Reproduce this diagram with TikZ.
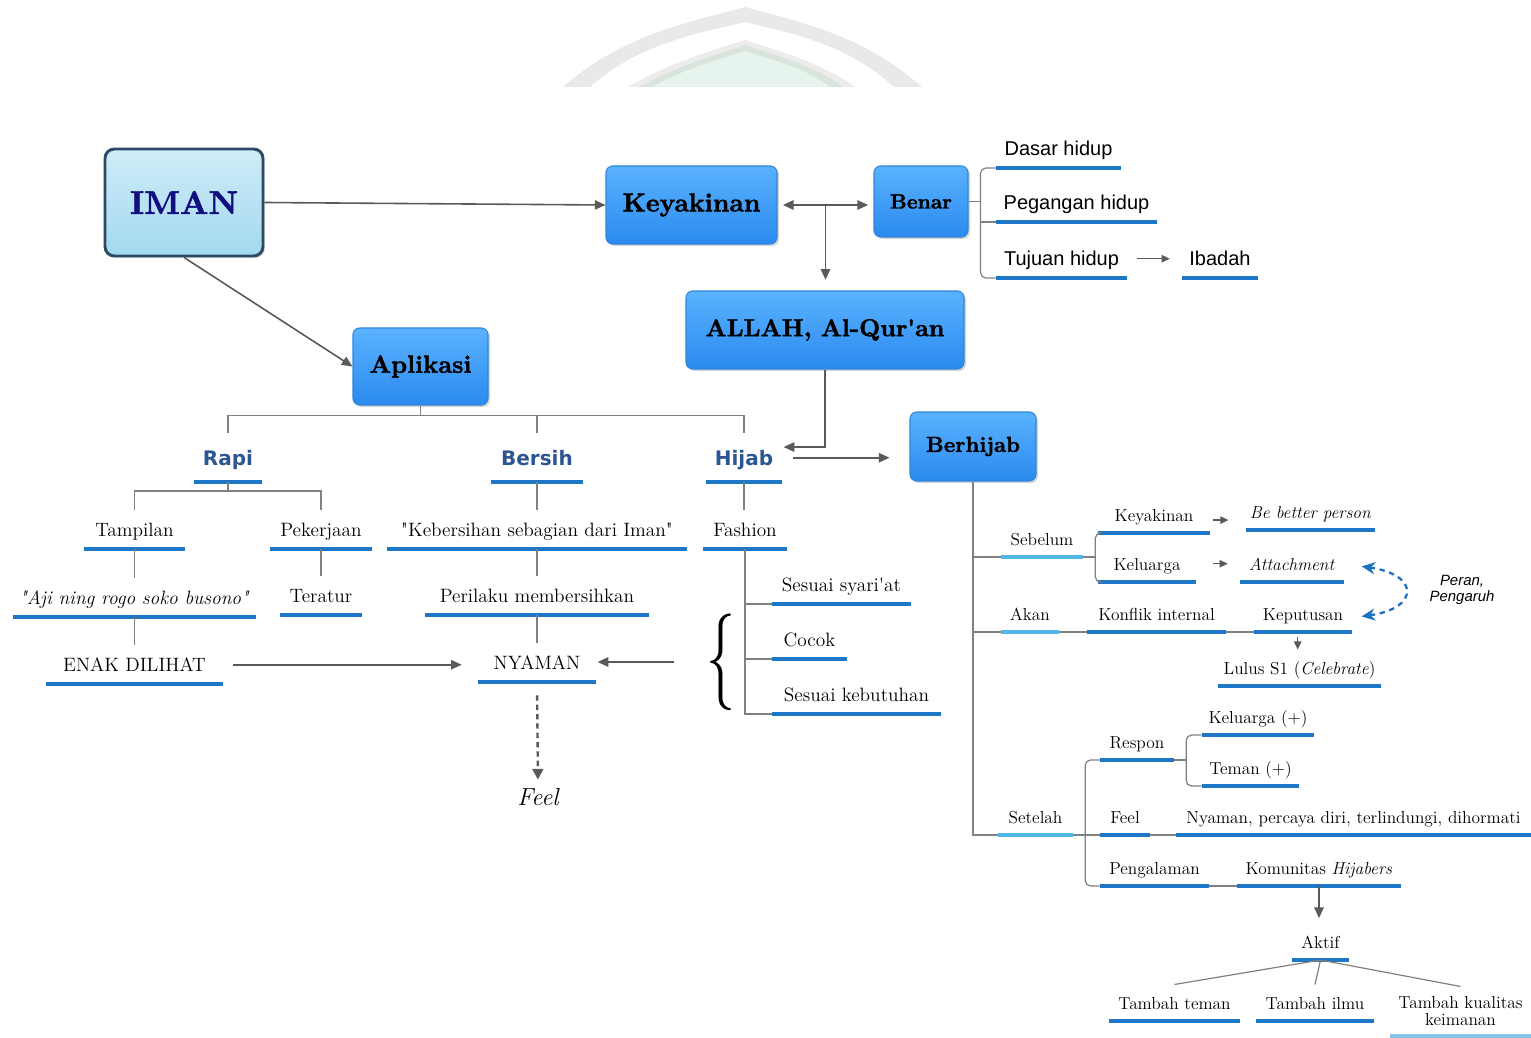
\documentclass[tikz,border=0pt]{standalone}
\usepackage{fontspec}
\usepackage{graphicx}
\usetikzlibrary{arrows.meta,shadows,calc}
\newfontfamily\headfont{DejaVu Sans}
\newfontfamily\arialfont{Liberation Sans}
\newfontfamily\boxfont{lmroman10-bold.otf}[FakeBold=1.6]
\definecolor{boxtop}{HTML}{5AB2FF}
\definecolor{boxbot}{HTML}{2A8AEE}
\definecolor{boxline}{HTML}{2F86DA}
\definecolor{imantop}{HTML}{CFEDF8}
\definecolor{imanbot}{HTML}{A3D8EE}
\definecolor{imanline}{HTML}{2C4A66}
\definecolor{imantext}{HTML}{120E80}
\definecolor{headblue}{HTML}{2C5592}
\definecolor{ublue}{HTML}{1E76C6}
\definecolor{ulight}{HTML}{52B6E6}
\definecolor{ufaint}{HTML}{86C3E8}
\definecolor{arrgray}{HTML}{5A5A5A}
\definecolor{linkgray}{HTML}{808080}
\definecolor{wmgray}{HTML}{E9E9E9}
\definecolor{wmedge}{HTML}{D8E4DC}
\definecolor{wmgreen}{HTML}{E6F4ED}
\definecolor{peranblue}{HTML}{1C70C2}
\tikzset{
  sz/.style 2 args={minimum width=#1*0.75pt, minimum height=#2*0.75pt},
  box/.style={rounded corners=5pt, draw=boxline, line width=0.8pt,
    top color=boxtop, bottom color=boxbot, inner sep=0pt,
    drop shadow={opacity=0.3, shadow xshift=1.5pt, shadow yshift=-1.5pt}},
  imanbox/.style={rounded corners=7pt, draw=imanline, line width=2.2pt,
    top color=imantop, bottom color=imanbot, inner sep=0pt, text=imantext,
    drop shadow={opacity=0.25, shadow xshift=1.5pt, shadow yshift=-1.5pt},
    font=\boxfont\fontsize{24.6}{28}\selectfont},
  item/.style={anchor=south, inner sep=0pt},
  litem/.style={item, minimum height=38*0.75pt, text height=13.3pt, text depth=3.5pt,
    font=\fontsize{14.5}{16}\selectfont},
  ritem/.style={item, minimum height=36*0.75pt, text height=13pt, text depth=3.1pt,
    font=\fontsize{13}{15}\selectfont},
  sitem/.style={item, minimum height=38*0.75pt, text height=13.8pt, text depth=3.5pt,
    font=\arialfont\fontsize{15}{17}\selectfont},
  head/.style={item, minimum height=48*0.75pt, text height=15.5pt, text depth=3.5pt,
    text=headblue, font=\headfont\bfseries\fontsize{15}{17}\selectfont},
  uline/.style={draw=#1, line width=2.6pt},
  link/.style={draw=linkgray, line width=0.9pt},
  arr/.style={draw=arrgray, line width=1.2pt, -{Triangle[length=8pt,width=7pt]}},
  dblarr/.style={draw=arrgray, line width=1.2pt,
    {Triangle[length=8pt,width=7pt]}-{Triangle[length=8pt,width=7pt]}},
  sarr/.style={draw=arrgray, line width=0.9pt, -{Triangle[length=6pt,width=5.5pt]}},
  darr/.style={draw=arrgray, line width=1.8pt, dash pattern=on 4pt off 3pt,
    -{Triangle[length=8pt,width=8pt]}},
  peran/.style={draw=peranblue, line width=1.7pt, dash pattern=on 4pt off 3.5pt,
    {Stealth[length=10pt,width=9pt]}-{Stealth[length=10pt,width=9pt]}}
}
\begin{document}
\begin{tikzpicture}[x=0.75pt, y=-0.75pt]
   \useasboundingbox (0,0) rectangle (1531,1038);
   \fill[white] (0,0) rectangle (1531,1038);
   % watermark
   \begin{scope}
      \clip (0,0) rectangle (1531,87);
      \fill[wmgray] (563,87) .. controls (625,32) and (700,20) .. (745,7)
         .. controls (790,20) and (860,32) .. (922,87) -- (894,87)
         .. controls (845,42) and (785,32) .. (745,22)
         .. controls (705,32) and (640,42) .. (590,87) -- cycle;
      \fill[wmgray!85!white] (628,87) .. controls (670,62) and (715,50) .. (745,40)
         .. controls (775,50) and (820,62) .. (855,87) -- cycle;
      \fill[wmedge] (640,87) .. controls (680,64) and (720,54) .. (745,45)
         .. controls (770,54) and (812,64) .. (843,87) -- cycle;
      \fill[wmgreen] (652,87) .. controls (688,67) and (725,58) .. (745,51)
         .. controls (765,58) and (805,67) .. (830,87) -- cycle;
   \end{scope}

   \node[imanbox, sz={158}{107}] (iman) at (184,202.5) {IMAN};
   \node[box, sz={171}{78}, font=\boxfont\fontsize{19.4}{22}\selectfont] (keyakinan) at (691.5,205) {Keyakinan};
   \node[box, sz={94}{71}, font=\boxfont\fontsize{15.4}{18}\selectfont] (benar) at (921,201.5) {Benar};
   \node[box, sz={278}{78}, font=\boxfont\fontsize{18.3}{21}\selectfont] (allah) at (825,330) {ALLAH, Al-Qur\textquotesingle an};
   \node[box, sz={135}{77}, font=\boxfont\fontsize{18.7}{21}\selectfont] (aplikasi) at (420.5,366.5) {Aplikasi};
   \node[box, sz={126}{69}, font=\boxfont\fontsize{16.3}{19}\selectfont] (berhijab) at (973,446.5) {Berhijab};

   \def \SansItems {
      dasar/1058.5/168/125/Dasar hidup,
      pegangan/1076.5/222/161/Pegangan hidup,
      tujuan/1061.5/278/131/Tujuan hidup,
      ibadah/1220/278/76/Ibadah}
   \def \Heads {
      rapi/228/482/68/Rapi,
      bersih/537/482/92/Bersih,
      hijab/744/482/76/Hijab}
   \def \LeftItems {
      tampilan/134.5/549/101/Tampilan,
      pekerjaan/321/549/102/Pekerjaan,
      kebersihan/537/549/300/\textquotedbl Kebersihan sebagian dari Iman\textquotedbl,
      fashion/745/549/84/Fashion,
      aji/134.5/617/243/{\textit{\textquotedbl Aji ning rogo soko busono\textquotedbl}},
      teratur/321/615/81/Teratur,
      perilaku/537/615/224/Perilaku membersihkan,
      enak/134.5/684/176/ENAK DILIHAT,
      nyaman/537/682/118/NYAMAN,
      syariat/841.5/604/139/Sesuai syari\textquotesingle at,
      cocok/809.5/659/75/Cocok,
      kebutuhan/856.5/714/169/Sesuai kebutuhan}
   \def \RightItems {
      sebelum/1042/557/82/Sebelum/ulight,
      keyak2/1154/533/112/Keyakinan/ublue,
      keluarga/1147/582/98/Keluarga/ublue,
      better/1310.5/530/129/{\textit{Be better person}}/ublue,
      attach/1292/582/104/{\textit{Attachment}}/ublue,
      akan/1030/632/58/Akan/ulight,
      konflik/1156.5/632/139/Konflik internal/ublue,
      keputusan/1303/632/98/Keputusan/ublue,
      lulus/1299.5/686/163/{Lulus S1 (\textit{Celebrate})}/ublue,
      setelah/1035.5/835/75/Setelah/ulight,
      respon/1137/760/74/Respon/ublue,
      kel2/1258/735/112/Keluarga (+)/ublue,
      teman/1250.5/786/97/Teman (+)/ublue,
      feel2/1125/835/50/Feel/ublue,
      nyaman2/1353.5/835/355/{Nyaman, percaya diri, terlindungi, dihormati}/ublue,
      pengal/1154.5/886/109/Pengalaman/ublue,
      komunitas/1319/886/164/{Komunitas \textit{Hijabers}}/ublue,
      aktif/1320.5/960/57/Aktif/ublue,
      tteman/1174.5/1021/131/Tambah teman/ublue,
      tilmu/1315/1021/118/Tambah ilmu/ublue}
   \foreach \n / \x / \y / \w / \t in \SansItems {
      \node[sitem, minimum width=\w*0.75pt] (\n) at (\x, \y) {\t};
      \path[uline=ublue] (\n.south west) -- (\n.south east);
   }
   \foreach \n / \x / \y / \w / \t in \Heads {
      \node[head, minimum width=\w*0.75pt] (\n) at (\x, \y) {\t};
      \path[uline=ublue] (\n.south west) -- (\n.south east);
   }
   \foreach \n / \x / \y / \w / \t in \LeftItems {
      \node[litem, minimum width=\w*0.75pt] (\n) at (\x, \y) {\t};
      \path[uline=ublue] (\n.south west) -- (\n.south east);
   }
   \foreach \n / \x / \y / \w / \t / \u in \RightItems {
      \node[ritem, minimum width=\w*0.75pt] (\n) at (\x, \y) {\t};
      \path[uline=\u] (\n.south west) -- (\n.south east);
   }
   \node[item, minimum width=141*0.75pt, minimum height=49*0.75pt, align=center,
      font=\fontsize{13}{12.5}\selectfont] (tkual) at (1460.5,1036) {Tambah kualitas\\keimanan};
   \path[uline=ufaint] (tkual.south west) -- (tkual.south east);

   \node[font=\itshape\fontsize{18.5}{20}\selectfont] (feel) at (538,797) {Feel};
   \node[inner sep=0pt] (brace) at (721,662)
      {\scalebox{3}[5]{\fontsize{14.5}{16}\selectfont\{}};
   \coordinate (nyin) at (674,662);
   \node[align=center, font=\arialfont\itshape\fontsize{11.2}{12}\selectfont] (peranlbl)
      at (1462,590) {Peran,\\Pengaruh};

   % top arrows
   \draw[arr] (iman.east) -- (keyakinan.west);
   \draw[arr] (iman.south) -- (aplikasi.west);
   \draw[dblarr, shorten <=4pt, shorten >=4pt] (keyakinan.east) -- (keyakinan.east -| benar.west);
   \coordinate (kb) at ($(keyakinan.east)!0.5!(keyakinan.east -| benar.west)$);
   \draw[arr, shorten >=8pt] (kb) -- (kb |- allah.north);
   \draw[link, rounded corners=4pt] (dasar.south west) -| ([xshift=9pt]benar.east) |- (tujuan.south west);
   \draw[link] (benar.east) -- ++(12,0);
   \draw[link] ([xshift=9pt]benar.east |- pegangan.south) -- (pegangan.south west);
   \draw[sarr, shorten <=7.5pt, shorten >=9pt] (tujuan.east) -- (tujuan.east -| ibadah.west);

   % aplikasi
   \draw[link] (aplikasi.south) -- ++(0,10) coordinate (ap);
   \draw[link] (rapi.north) |- (ap) -| (hijab.north);
   \draw[link] (ap -| bersih.north) -- (bersih.north);
   \draw[link] (rapi.south) -- ++(0,9) coordinate (rp);
   \draw[link] (tampilan.north) |- (rp) -| (pekerjaan.north);
   \foreach \u / \v in {tampilan/aji, aji/enak, pekerjaan/teratur, bersih/kebersihan,
      kebersihan/perilaku, perilaku/nyaman, hijab/fashion} {
      \draw[link] (\u.south) -- (\u.south |- \v.north);
   }
   \draw[link] (fashion.south) |- (kebutuhan.south west);
   \draw[link] (fashion.south |- syariat.south) -- (syariat.south west);
   \draw[link] (fashion.south |- cocok.south) -- (cocok.south west);
   \draw[arr, shorten <=7.5pt, shorten >=12pt] (enak.east) -- (enak.east -| nyaman.west);
   \draw[arr, shorten >=1pt] (nyin) -- (nyin -| nyaman.east);
   \draw[darr, shorten <=10pt, shorten >=3pt] (nyaman.south) -- (feel.north);
   \draw[arr] (allah.south) |- ([xshift=1pt,yshift=8pt]hijab.east);
   \draw[arr] ([xshift=8pt]hijab.east) -- ([xshift=-15pt]hijab.east -| berhijab.west);

   % berhijab
   \draw[link] (berhijab.south) |- (setelah.south west);
   \draw[link] (berhijab.south |- sebelum.south) -- (sebelum.south west);
   \draw[link] (berhijab.south |- akan.south) -- (akan.south west);
   \draw[link, rounded corners=4pt] (keyak2.south west) -| ([xshift=9pt]sebelum.south east) |- (keluarga.south west);
   \draw[link] (sebelum.south east) -- ++(12,0);
   \draw[sarr, shorten <=2pt, shorten >=13pt] ([yshift=-4pt]keyak2.east) -- ([yshift=-4pt]keyak2.east -| better.west);
   \draw[sarr, shorten <=12.5pt, shorten >=9pt] (keluarga.east) -- (keluarga.east -| attach.west);
   \draw[link] (akan.south east) -- (konflik.south west);
   \draw[link] (konflik.south east) -- (keputusan.south west);
   \draw[sarr, shorten <=4pt] ([xshift=-4pt]keputusan.south) -- ([xshift=-4pt]keputusan.south |- lulus.north);
   \draw[peran] ([xshift=13pt,yshift=-2pt]attach.east) .. controls +(58,8) and +(58,-8) .. ([xshift=7pt,yshift=-2pt]keputusan.east);
   \draw[link, rounded corners=4pt] (respon.south west) -| ([xshift=9pt]setelah.south east) |- (pengal.south west);
   \draw[link] (setelah.south east) -- (feel2.south west);
   \draw[link, rounded corners=4pt] (kel2.south west) -| ([xshift=9pt]respon.south east) |- (teman.south west);
   \draw[link] (respon.south east) -- ++(12,0);
   \draw[link] (feel2.south east) -- (nyaman2.south west);
   \draw[link] (pengal.south east) -- (komunitas.south west);
   \draw[arr, shorten >=4pt] (komunitas.south) -- (komunitas.south |- aktif.north);
   \foreach \v in {tteman, tilmu, tkual} {
      \draw[link] (aktif.south) -- (\v.north);
   }
\end{tikzpicture}
\end{document}
